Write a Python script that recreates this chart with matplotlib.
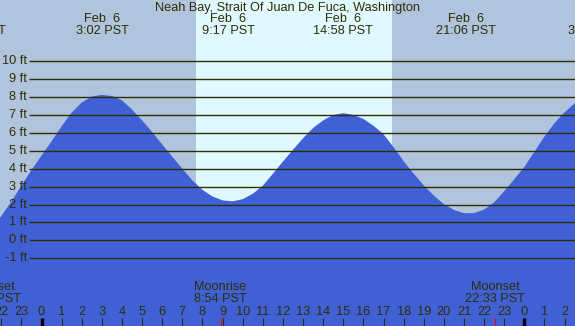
import numpy as np
import matplotlib
matplotlib.use("Agg")
import matplotlib.pyplot as plt

# tide heights (ft), every half hour (hours from midnight Feb 6)
hours = [-2.5, -2.0, -1.5, -1.0, -0.5, 0.0, 0.5, 1.0, 1.5, 2.0, 2.5, 3.0, 3.5, 4.0,
         4.5, 5.0, 5.5, 6.0, 6.5, 7.0, 7.5, 8.0, 8.5, 9.0, 9.5, 10.0, 10.5, 11.0,
         11.5, 12.0, 12.5, 13.0, 13.5, 14.0, 14.5, 15.0, 15.5, 16.0, 16.5, 17.0,
         17.5, 18.0, 18.5, 19.0, 19.5, 20.0, 20.5, 21.0, 21.5, 22.0, 22.5, 23.0,
         23.5, 24.0, 24.5, 25.0, 25.5, 26.0, 26.5, 27.0]
heights = [0.7, 1.35, 2.17, 3.05, 3.93, 4.73, 5.53, 6.37, 7.13, 7.7, 8.03, 8.12, 8.06, 7.82,
           7.3, 6.7, 6.05, 5.35, 4.67, 4.0, 3.35, 2.82, 2.45, 2.23, 2.18, 2.3, 2.6, 3.05,
           3.72, 4.4, 5.06, 5.7, 6.27, 6.7, 7.0, 7.1, 7.0, 6.78, 6.4, 5.92,
           5.2, 4.42, 3.72, 3.07, 2.5, 2.02, 1.7, 1.52, 1.52, 1.72, 2.12, 2.75,
           3.42, 4.1, 4.95, 5.8, 6.55, 7.15, 7.65, 8.0]

# high / low tide labels
event_hours = [-3.27, 3.03, 9.28, 14.97, 21.1, 27.5]
event_dates = ["Feb  5", "Feb  6", "Feb  6", "Feb  6", "Feb  6", "Feb  7"]
event_times = ["20:44 PST", "3:02 PST", "9:17 PST", "14:58 PST", "21:06 PST", "3:30 PST"]

# moon events
moon_hours = [-2.53, 8.9, 22.55]
moon_names = ["Moonset", "Moonrise", "Moonset"]
moon_times = ["21:28 PST", "8:54 PST", "22:33 PST"]

sunrise = 7.68
sunset = 17.42

ft_levels = list(range(-1, 11))
tick_hours = list(range(-2, 27))

title = "Neah Bay, Strait Of Juan De Fuca, Washington"

night = "#b0c4de"
day = "#e0f8ff"
water = "#4060d6"
ink = "#2e2e00"

plt.rcParams['font.family'] = ['Liberation Sans', 'DejaVu Sans']
fs = 9.2

fig = plt.figure(figsize=(5.75, 3.26), dpi=100)
fig.patch.set_facecolor(night)
ax = fig.add_axes([0, 0, 1, 1])
ax.set_facecolor(night)
ax.set_xlim(-2.063, 26.516)
ax.set_ylim(-4.78, 13.42)
ax.axis('off')

ax.axvspan(sunrise, sunset, color=day, lw=0, zorder=0)
ax.fill_between(hours, heights, -10, color=water, lw=0, zorder=1)

# grid lines + labels
x0 = ax.get_xlim()[0] + 29 / 20.12
for ft in ft_levels:
    ax.plot([x0, 30], [ft, ft], color=ink, lw=1.0, zorder=2, solid_capstyle='butt')
    ax.text(x0 - 0.1, ft, "%d ft" % ft, color=ink, fontsize=fs, ha='right', va='center', zorder=3)

tr = ax.get_xaxis_transform()
fig.text(0.5, 1 - 8 / 326, title, color=ink, fontsize=fs, ha='center', va='center')

for h, d, t in zip(event_hours, event_dates, event_times):
    ax.text(h, 1 - 19 / 326, d, transform=tr, color=ink, fontsize=fs, ha='center', va='center')
    ax.text(h, 1 - 31.5 / 326, t, transform=tr, color=ink, fontsize=fs, ha='center', va='center')

for h, n, t in zip(moon_hours, moon_names, moon_times):
    ax.text(h, 1 - 287 / 326, n, transform=tr, color=ink, fontsize=fs, ha='center', va='center')
    ax.text(h, 1 - 299.5 / 326, t, transform=tr, color=ink, fontsize=fs, ha='center', va='center')
    ax.plot([h, h], [0, 8 / 326], transform=tr, color='red', lw=0.8, zorder=4)

for h in tick_hours:
    ax.text(h, 1 - 312 / 326, str(h % 24), transform=tr, color=ink, fontsize=fs,
            ha='center', va='center')
    if h % 24 == 0:
        ax.plot([h, h], [0, 8 / 326], transform=tr, color='black', lw=2.4, zorder=4,
                solid_capstyle='butt')
    else:
        ax.plot([h, h], [0, 8 / 326], transform=tr, color=ink, lw=0.8, zorder=4,
                solid_capstyle='butt')

fig.savefig("out.png", dpi=100, facecolor=night)
